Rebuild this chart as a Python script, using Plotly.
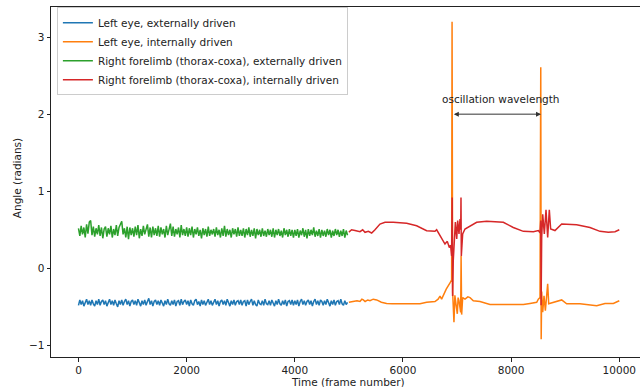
import numpy as np
import plotly.graph_objects as go

# ---------------- data ----------------
t_ext = np.arange(0, 5000, 25)

green_ext = [
    0.52,0.42,0.55,0.44,0.53,0.40,0.57,0.45,0.60,0.62,0.43,0.54,0.41,0.52,0.44,0.56,0.42,0.53,0.39,0.51,
    0.54,0.41,0.52,0.44,0.55,0.40,0.51,0.43,0.56,0.42,0.53,0.58,0.61,0.44,0.52,0.40,0.54,0.38,0.53,0.43,
    0.52,0.41,0.54,0.43,0.56,0.39,0.51,0.42,0.55,0.44,0.52,0.57,0.41,0.53,0.40,0.54,0.43,0.52,0.42,0.55,
    0.41,0.53,0.44,0.51,0.40,0.55,0.43,0.52,0.58,0.42,0.54,0.41,0.51,0.44,0.53,0.40,0.56,0.43,0.51,0.42,
    0.53,0.41,0.52,0.43,0.54,0.40,0.51,0.44,0.53,0.42,0.50,0.39,0.52,0.43,0.51,0.41,0.54,0.42,0.50,0.44,
    0.51,0.41,0.53,0.43,0.50,0.40,0.52,0.42,0.55,0.41,0.51,0.43,0.50,0.40,0.52,0.44,0.51,0.41,0.53,0.42,
    0.50,0.42,0.52,0.40,0.51,0.43,0.53,0.41,0.50,0.42,0.52,0.39,0.51,0.43,0.50,0.41,0.52,0.42,0.49,0.41,
    0.51,0.43,0.50,0.41,0.52,0.40,0.50,0.43,0.51,0.42,0.49,0.40,0.52,0.43,0.50,0.41,0.51,0.42,0.50,0.40,
    0.50,0.42,0.51,0.40,0.49,0.43,0.52,0.41,0.50,0.39,0.51,0.42,0.50,0.43,0.53,0.41,0.49,0.42,0.51,0.40,
    0.50,0.42,0.49,0.41,0.51,0.43,0.50,0.40,0.49,0.42,0.51,0.43,0.50,0.41,0.49,0.42,0.51,0.40,0.49,0.43,
]

blue_ext = [
    -0.48,-0.41,-0.47,-0.42,-0.49,-0.43,-0.40,-0.47,-0.42,-0.48,-0.41,-0.46,-0.49,-0.42,-0.47,-0.40,-0.48,-0.43,-0.41,-0.47,
    -0.42,-0.49,-0.43,-0.40,-0.47,-0.42,-0.48,-0.41,-0.46,-0.50,-0.42,-0.47,-0.41,-0.48,-0.43,-0.40,-0.47,-0.42,-0.49,-0.43,
    -0.41,-0.47,-0.42,-0.48,-0.40,-0.46,-0.49,-0.42,-0.47,-0.41,-0.48,-0.43,-0.39,-0.47,-0.42,-0.49,-0.43,-0.41,-0.47,-0.42,
    -0.48,-0.41,-0.46,-0.49,-0.42,-0.47,-0.40,-0.46,-0.48,-0.42,-0.47,-0.41,-0.49,-0.43,-0.42,-0.48,-0.40,-0.47,-0.43,-0.41,
    -0.47,-0.42,-0.49,-0.41,-0.46,-0.48,-0.42,-0.40,-0.47,-0.43,-0.49,-0.41,-0.47,-0.42,-0.48,-0.43,-0.40,-0.47,-0.42,-0.48,
    -0.43,-0.40,-0.47,-0.42,-0.49,-0.43,-0.41,-0.47,-0.42,-0.48,-0.40,-0.46,-0.49,-0.42,-0.47,-0.41,-0.48,-0.43,-0.42,-0.47,
    -0.41,-0.48,-0.43,-0.42,-0.49,-0.41,-0.47,-0.43,-0.40,-0.48,-0.42,-0.47,-0.49,-0.41,-0.46,-0.47,-0.42,-0.48,-0.40,-0.46,
    -0.47,-0.42,-0.48,-0.41,-0.46,-0.49,-0.42,-0.47,-0.40,-0.46,-0.48,-0.42,-0.47,-0.41,-0.49,-0.43,-0.42,-0.47,-0.41,-0.48,
    -0.42,-0.47,-0.41,-0.49,-0.43,-0.40,-0.47,-0.42,-0.48,-0.43,-0.41,-0.47,-0.42,-0.49,-0.43,-0.40,-0.47,-0.42,-0.48,-0.41,
    -0.43,-0.48,-0.42,-0.47,-0.40,-0.46,-0.49,-0.42,-0.47,-0.41,-0.48,-0.43,-0.42,-0.47,-0.40,-0.46,-0.48,-0.42,-0.47,-0.44,
]

t_orange = [5000,5080,5150,5205,5240,5267,5300,5350,5390,5450,5514,5600,5698,5800,6068,6315,6438,6592,6650,6685,
            6715,6760,6800,6870,6900,6908,6918,6943,6960,6980,7005,7020,7036,7067,7075,7085,7104,7147,7200,7240,
            7301,7424,7550,7609,7733,8164,8226,8349,8473,8503,8534,8548,8556,8565,8584,8608,8633,8657,8676,8695,
            8750,8850,8935,9027,9273,9582,9680,9736,9890,10000]
v_orange = [-0.44,-0.43,-0.42,-0.43,-0.40,-0.41,-0.43,-0.41,-0.42,-0.40,-0.41,-0.44,-0.455,-0.46,-0.46,-0.46,-0.44,-0.43,-0.40,-0.36,
            -0.40,-0.33,-0.27,-0.19,-0.15,3.20,-0.30,-0.70,-0.35,-0.46,-0.59,-0.38,-0.42,-0.57,0.16,-0.60,-0.38,-0.40,-0.37,-0.38,
            -0.42,-0.43,-0.46,-0.47,-0.47,-0.47,-0.47,-0.455,-0.44,-0.40,-0.38,2.61,-0.92,-0.30,-0.57,-0.355,-0.55,-0.31,-0.20,-0.46,
            -0.45,-0.43,-0.41,-0.46,-0.46,-0.485,-0.47,-0.455,-0.455,-0.42]

t_red = [5000,5050,5113,5205,5255,5298,5360,5421,5483,5575,5668,5821,6068,6253,6438,6592,6623,6685,6740,6777,
         6820,6857,6880,6900,6910,6918,6930,6950,6969,6994,7012,7036,7055,7068,7073,7079,7104,7147,7240,7363,
         7548,7856,8040,8226,8411,8503,8535,8548,8554,8565,8584,8614,8645,8676,8706,8731,8811,8935,9212,9458,
         9643,9797,9921,10000]
v_red = [0.47,0.50,0.49,0.475,0.50,0.467,0.48,0.458,0.50,0.575,0.597,0.597,0.584,0.553,0.488,0.48,0.50,0.423,0.36,0.315,
         0.35,0.27,0.30,0.16,0.92,-0.36,0.10,0.34,0.60,0.38,0.62,0.445,0.64,0.50,0.92,0.16,0.445,0.51,0.55,0.597,
         0.61,0.597,0.53,0.48,0.475,0.49,0.46,0.62,-0.48,0.40,0.70,0.445,0.76,0.40,0.76,0.51,0.49,0.575,0.566,0.53,
         0.48,0.467,0.475,0.50]

series_names = ["Left eye, externally driven", "Left eye, internally driven",
                "Right forelimb (thorax-coxa), externally driven",
                "Right forelimb (thorax-coxa), internally driven"]
colors = ["#1f77b4", "#ff7f0e", "#2ca02c", "#d62728"]

x_ticks = [0, 2000, 4000, 6000, 8000, 10000]
y_ticks = [-1, 0, 1, 2, 3]

wave_start, wave_end, wave_y = 6913, 8553, 2.0

# ---------------- figure ----------------
FONT = "DejaVu Sans"
FS = 10.5
TXT = "#222222"
fig = go.Figure()
fig.add_trace(go.Scatter(x=t_ext, y=blue_ext, mode="lines", name=series_names[0],
                         line=dict(color=colors[0], width=1.5)))
fig.add_trace(go.Scatter(x=t_orange, y=v_orange, mode="lines", name=series_names[1],
                         line=dict(color=colors[1], width=1.5)))
fig.add_trace(go.Scatter(x=t_ext, y=green_ext, mode="lines", name=series_names[2],
                         line=dict(color=colors[2], width=1.5)))
fig.add_trace(go.Scatter(x=t_red, y=v_red, mode="lines", name=series_names[3],
                         line=dict(color=colors[3], width=1.5)))

fig.add_annotation(x=wave_end, y=wave_y, ax=wave_start, ay=wave_y, xref="x", yref="y",
                   axref="x", ayref="y", text="", showarrow=True, arrowside="end+start",
                   arrowhead=2, arrowsize=1, arrowwidth=1, arrowcolor="#333333",
                   startarrowhead=2, startarrowsize=1)
fig.add_annotation(x=(wave_start + wave_end) / 2 + 70, y=2.2, xref="x", yref="y",
                   text="oscillation wavelength", showarrow=False,
                   font=dict(family=FONT, size=FS, color=TXT))

fig.add_annotation(x=0.505, y=-0.071, xref="paper", yref="paper", text="Time (frame number)",
                   showarrow=False, xanchor="center", yanchor="middle",
                   font=dict(family=FONT, size=FS, color=TXT))
fig.add_annotation(x=-0.0577, y=0.511, xref="paper", yref="paper", text="Angle (radians)",
                   showarrow=False, textangle=-90, xanchor="center", yanchor="middle",
                   font=dict(family=FONT, size=FS, color=TXT))

fig.update_layout(
    width=640, height=387,
    margin=dict(l=51, r=0, t=7, b=30, autoexpand=False),
    plot_bgcolor="white", paper_bgcolor="white",
    font=dict(family=FONT, size=FS, color=TXT),
    showlegend=True,
    legend=dict(x=0.01, y=0.999, xanchor="left", yanchor="top",
                bgcolor="rgba(255,255,255,0.8)", bordercolor="#cccccc", borderwidth=1,
                font=dict(family=FONT, size=FS, color=TXT), itemwidth=30,
                tracegroupgap=0),
)
fig.update_xaxes(range=[-508, 10383], tickvals=x_ticks, tickformat="d", ticks="outside",
                 ticklen=3.5, tickcolor=TXT, showgrid=False, zeroline=False, showline=True,
                 linecolor=TXT, linewidth=1, mirror=True, automargin=False)
fig.update_yaxes(range=[-1.15, 3.39], tickvals=y_ticks, ticks="outside", ticklen=3.5,
                 tickcolor=TXT, showgrid=False, zeroline=False, showline=True,
                 linecolor=TXT, linewidth=1, tickformat="d", automargin=False)

fig.write_html("out.html", config={"displayModeBar": False},
               post_script="document.body.style.margin='0';")
